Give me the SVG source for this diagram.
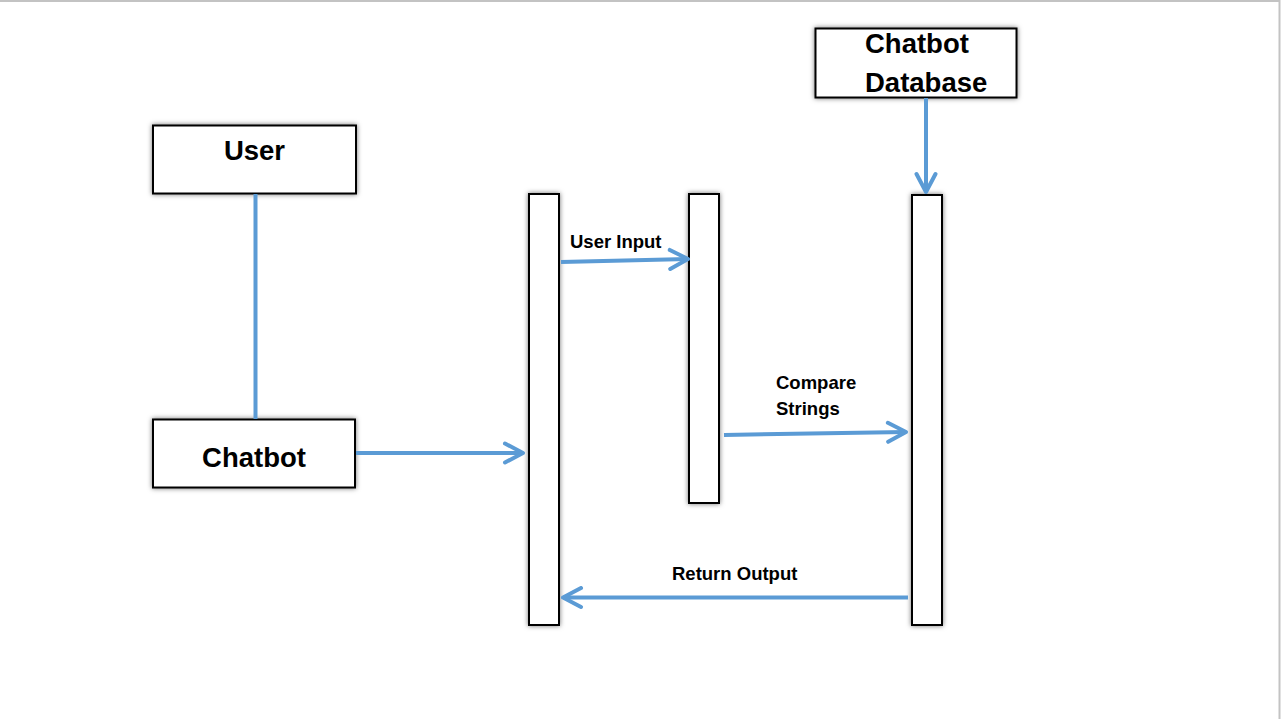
<svg xmlns="http://www.w3.org/2000/svg" width="1281" height="719" viewBox="0 0 1281 719">
<style>
.box{fill:#fff;stroke:#000;stroke-width:2;filter:url(#sh)}
.big{font-family:"Liberation Sans",Arial,sans-serif;font-weight:bold;font-size:27.5px;fill:#000}
.lbl{font-family:"Liberation Sans",Arial,sans-serif;font-weight:bold;font-size:18.5px;fill:#000}
.con{stroke:#5B9BD5;stroke-width:4;fill:none}
</style>
<defs>
<filter id="sh" x="-30%" y="-10%" width="160%" height="120%">
<feDropShadow dx="0" dy="0" stdDeviation="2.5" flood-color="#000" flood-opacity="0.55"/>
</filter>
<marker id="ah" viewBox="0 0 24 24" refX="21" refY="12" markerWidth="24" markerHeight="24" markerUnits="userSpaceOnUse" orient="auto">
<path d="M3,2.5 L21,12 L3,21.5" fill="none" stroke="#5B9BD5" stroke-width="4" stroke-linecap="round" stroke-linejoin="round"/>
</marker>
</defs>
<rect x="0" y="0" width="1281" height="719" fill="#fff"/>
<path d="M0,1 H1279.5 V719" fill="none" stroke="#c3c3c3" stroke-width="2"/>

<g id="user">
<rect class="box" x="153" y="125.5" width="203" height="68"/>
<text class="big" x="254.5" y="160" text-anchor="middle">User</text>
</g>
<g id="chatbot">
<rect class="box" x="153" y="419.5" width="202" height="68"/>
<text class="big" x="254" y="467" text-anchor="middle">Chatbot</text>
</g>
<g id="database">
<rect class="box" x="815.5" y="28.5" width="201" height="69"/>
<text class="big" x="865" y="53">Chatbot</text>
<text class="big" x="865" y="92">Database</text>
</g>
<g id="bar1">
<rect class="box" x="529" y="194" width="30" height="431"/>
</g>
<g id="bar2">
<rect class="box" x="689" y="194" width="30" height="309"/>
</g>
<g id="bar3">
<rect class="box" x="912" y="195" width="30" height="430"/>
</g>

<g id="connectors">
<line class="con" x1="255.5" y1="194" x2="255.5" y2="419"/>
<line class="con" x1="356" y1="453" x2="523" y2="453" marker-end="url(#ah)"/>
<line class="con" x1="926" y1="98" x2="926" y2="192" marker-end="url(#ah)"/>
<line class="con" x1="561" y1="262" x2="688" y2="259" marker-end="url(#ah)"/>
<line class="con" x1="724" y1="435" x2="906" y2="432" marker-end="url(#ah)"/>
<line class="con" x1="908" y1="597.5" x2="563" y2="597.5" marker-end="url(#ah)"/>
</g>

<g id="labels">
<text class="lbl" x="570" y="248">User Input</text>
<text class="lbl" x="776" y="389">Compare</text>
<text class="lbl" x="776" y="415">Strings</text>
<text class="lbl" x="672" y="580">Return Output</text>
</g>
</svg>
